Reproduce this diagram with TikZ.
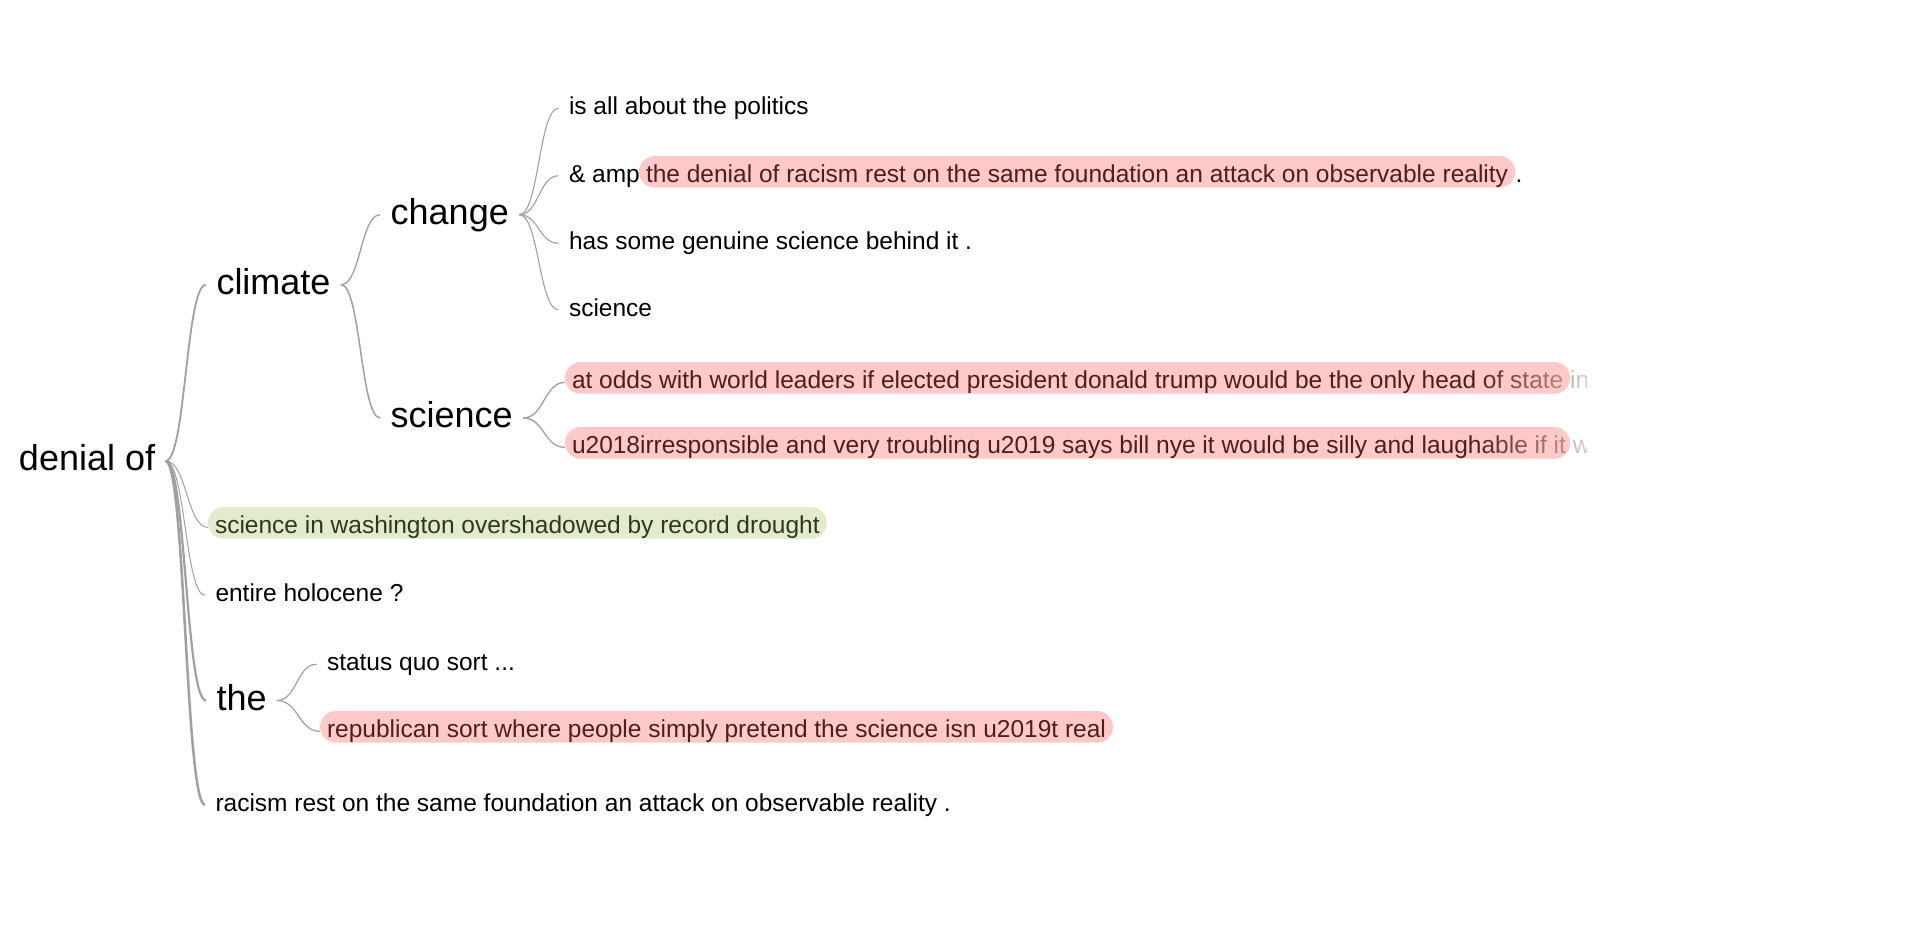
\documentclass[tikz,border=0pt]{standalone}
\usepackage{fontspec}
\setmainfont{Liberation Sans}
\usetikzlibrary{calc,fadings}

\definecolor{linkgrey}{RGB}{160,160,160}
\definecolor{pinkfill}{RGB}{255,201,201}
\definecolor{pinktext}{RGB}{78,30,30}
\definecolor{greenfill}{RGB}{226,235,204}
\definecolor{greentext}{RGB}{46,56,30}

\newcommand{\bigword}{\fontsize{36}{43}\selectfont}
\newcommand{\smallword}{\fontsize{24.5}{29}\selectfont}

% text runs out to the right
\tikzfading[name=tailfade, left color=transparent!100, right color=transparent!0]

\tikzset{
  word/.style={anchor=base west, inner xsep=10.5pt, inner ysep=0pt, outer sep=0pt,
    font=\bigword, text height=26pt, text depth=7pt},
  leaf/.style={anchor=base west, inner xsep=10.5pt, inner ysep=0pt, outer sep=0pt,
    font=\smallword, text height=17.5pt, text depth=5pt},
  hlbox/.style={leaf, inner xsep=7pt, text height=26pt, text depth=5.7pt,
    rounded corners=15.8pt},
  hlred/.style={hlbox, fill=pinkfill, text=pinktext},
  hlgreen/.style={hlbox, fill=greenfill, text=greentext},
  hlbar/.style={fill=pinkfill, rounded corners=15.8pt, inner sep=0pt, outer sep=0pt,
    anchor=west, minimum height=31.7pt},
  link/.style={draw=linkgrey, line width=1pt},
}

% horizontal word-tree link between two anchors
\newcommand{\wlink}[3][]{%
  \draw[link,#1] let \p1=(#2), \p2=(#3) in
    (\p1) .. controls ({0.5*\x1+0.5*\x2},\y1) and ({0.5*\x1+0.5*\x2},\y2) .. (\p2);}

\begin{document}
\begin{tikzpicture}[x=1pt,y=-1pt]
  \useasboundingbox[fill=white] (0,0) rectangle (1920,937);
  \begin{scope}[shift={(0,2.5)}]

  % root and first level
  \node[word] (root) at (8.5,468) {denial of};
  \node[word] (climate) at (206,291.7) {climate};
  \node[hlgreen] (washington) at (208,530.5) {science in washington overshadowed by record drought};
  \node[leaf] (holocene) at (205,599) {entire holocene ?};
  \node[word] (the) at (206,707.5) {the};
  \node[leaf] (racism) at (205,808.5) {racism rest on the same foundation an attack on observable reality .};

  % under climate
  \node[word] (change) at (380.2,221.7) {change};
  \node[word] (science) at (380.2,425) {science};

  % under change
  \node[leaf] (politics) at (558.5,112) {is all about the politics};
  \node[leaf] (amp) at (558.5,179.5) {\& amp};
  \node[hlred, anchor=base west] (ampbox) at (639,179.5)
    {the denial of racism rest on the same foundation an attack on observable reality};
  \node[leaf, inner xsep=0pt] (ampdot) at ([xshift=0.5pt]ampbox.base east) {.};
  \node[leaf] (genuine) at (558.5,247) {has some genuine science behind it .};
  \node[leaf] (scileaf) at (558.5,313.5) {science};

  % under science
  \node[hlbar, minimum width=1005pt] (oddsbox) at (565,375.35) {};
  \node[leaf, inner xsep=0pt, text=pinktext] (odds) at (572,385.5)
    {at odds with world leaders if elected president donald trump would be the only head of state in};
  \node[hlbar, minimum width=1005pt] (nyebox) at (565,440.35) {};
  \node[leaf, inner xsep=0pt, text=pinktext] (nye) at (572,450.5)
    {u2018irresponsible and very troubling u2019 says bill nye it would be silly and laughable if it w};

  % under the
  \node[leaf] (statusquo) at (316.5,668) {status quo sort ...};
  \node[hlred] (republican) at (320,734.5)
    {republican sort where people simply pretend the science isn u2019t real};

  % fade the cut-off sentences
  \foreach \b in {oddsbox,nyebox} {
    \begin{scope}
      \clip[rounded corners=15.8pt] (\b.south west) rectangle (\b.north east);
      \fill[pinkfill, path fading=tailfade] ([xshift=-95pt]\b.north east) rectangle ([xshift=45pt]\b.south east);
    \end{scope}
    \begin{scope}
      \clip (\b.north east) rectangle ([xshift=150pt]\b.south east);
      \fill[white, path fading=tailfade] ([xshift=-95pt]\b.north east) rectangle ([xshift=45pt]\b.south east);
      \fill[white] ([xshift=17pt]\b.north east) rectangle ([xshift=150pt]\b.south east);
    \end{scope}
  }

  % links
  \wlink[line width=1.8pt]{root.east}{climate.west}
  \wlink{root.east}{[yshift=-4.5pt]washington.west}
  \wlink{root.east}{holocene.west}
  \wlink[line width=2.2pt]{root.east}{the.west}
  \wlink[line width=2.5pt]{root.east}{racism.west}
  \wlink[line width=1.3pt]{climate.east}{change.west}
  \wlink[line width=1.5pt]{climate.east}{science.west}
  \foreach \lf in {politics,amp,genuine,scileaf} {
    \wlink[line width=1.1pt]{change.east}{\lf.west}
  }
  \wlink[line width=1.3pt]{science.east}{[yshift=-4.5pt]oddsbox.west}
  \wlink[line width=1.3pt]{science.east}{[yshift=-4.5pt]nyebox.west}
  \wlink[line width=1.2pt]{the.east}{statusquo.west}
  \wlink[line width=1.2pt]{the.east}{[yshift=-4.5pt]republican.west}
  \end{scope}
\end{tikzpicture}
\end{document}
